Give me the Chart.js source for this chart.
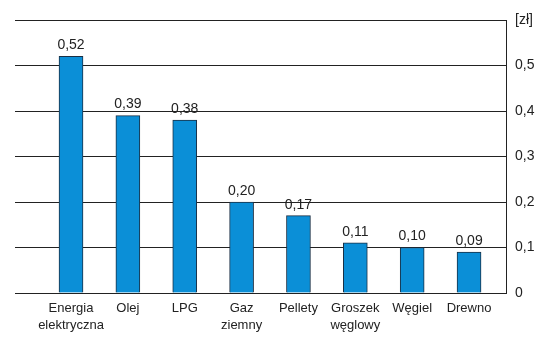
<!DOCTYPE html>
<html lang="pl">
<head>
    <meta charset="UTF-8">
    <title>Koszt ciepła</title>
    <script src="https://cdn.jsdelivr.net/npm/chart.js"></script>
    <style>
        html, body { margin: 0; padding: 0; background: #fff; }
        .wrap { width: 553px; height: 337px; position: relative; }
    </style>
</head>
<body>
    <div class="wrap"><canvas id="wykres"></canvas></div>

    <script>
        // dane
        const kategorie = [['Energia', 'elektryczna'], 'Olej', 'LPG', ['Gaz', 'ziemny'], 'Pellety', ['Groszek', 'węglowy'], 'Węgiel', 'Drewno'];
        const ceny = [0.52, 0.39, 0.38, 0.20, 0.17, 0.11, 0.10, 0.09];
        const jednostka = '[zł]';

        const FONT = "'Liberation Sans', Arial, sans-serif";
        const przecinek = (v, d) => v.toFixed(d).replace('.', ',');

        // etykiety wartosci nad slupkami
        const etykiety = {
            id: 'etykiety',
            afterDatasetsDraw(chart) {
                const ctx = chart.ctx;
                const meta = chart.getDatasetMeta(0);
                ctx.save();
                ctx.font = '14px ' + FONT;
                ctx.fillStyle = '#222';
                ctx.textAlign = 'center';
                ctx.textBaseline = 'bottom';
                meta.data.forEach((bar, i) => {
                    ctx.fillText(przecinek(ceny[i], 2), bar.x, bar.y - 4);
                });
                ctx.restore();
            }
        };

        new Chart(document.getElementById('wykres'), {
            type: 'bar',
            data: {
                datasets: [{
                    data: ceny.map((v, i) => ({ x: i, y: v })),
                    backgroundColor: '#0b8fd7',
                    borderColor: '#1a2f44',
                    borderWidth: 1,
                    borderSkipped: 'bottom',
                    barThickness: 24
                }]
            },
            options: {
                responsive: true,
                maintainAspectRatio: false,
                animation: false,
                layout: { padding: { left: 15, top: 20, right: 0, bottom: 0 } },
                plugins: { legend: { display: false }, tooltip: { enabled: false } },
                scales: {
                    x: {
                        type: 'linear',
                        offset: false,
                        min: -0.985,
                        max: 7.65,
                        grid: { display: false, drawTicks: false },
                        border: { display: false },
                        afterFit: (s) => { s.height = 44; },
                        afterBuildTicks: (s) => {
                            s.ticks = kategorie.map((_, i) => ({ value: i }));
                        },
                        ticks: {
                            autoSkip: false,
                            maxRotation: 0,
                            padding: 7,
                            color: '#222',
                            font: { family: FONT, size: 13, lineHeight: 1.3 },
                            callback: (v) => kategorie[Math.round(v)] ?? ''
                        }
                    },
                    y: {
                        position: 'right',
                        min: 0,
                        max: 0.6,
                        afterFit: (s) => { s.width = 47; },
                        grid: { color: '#222', lineWidth: 1, drawTicks: false },
                        border: { display: true, color: '#222', width: 1 },
                        ticks: {
                            stepSize: 0.1,
                            padding: 9,
                            color: '#222',
                            font: { family: FONT, size: 14 },
                            callback: (v) => Math.abs(v - 0.6) < 1e-9 ? jednostka : (v === 0 ? '0' : przecinek(v, 1))
                        }
                    }
                }
            },
            plugins: [etykiety]
        });
    </script>
</body>
</html>
